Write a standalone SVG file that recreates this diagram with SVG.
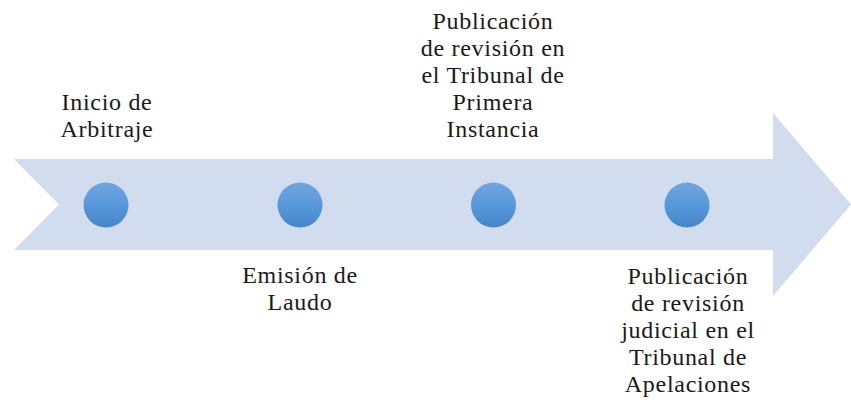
<svg xmlns="http://www.w3.org/2000/svg" width="851" height="402" viewBox="0 0 851 402">
<defs>
<linearGradient id="g" x1="0" y1="0" x2="0" y2="1">
<stop offset="0" stop-color="#72A6DD"/>
<stop offset="0.5" stop-color="#5798DB"/>
<stop offset="1" stop-color="#4585C8"/>
</linearGradient>
<style>
.dot{fill:url(#g);}
.t{font-family:"Liberation Serif","Times New Roman",serif;font-size:24px;fill:#1a1a1a;text-anchor:middle;letter-spacing:0.7px;}
</style>
</defs>
<g id="arrow">
<polygon points="14,159 773,159 773,113 851,204.5 773,296 773,250 14,250 59,204.5" fill="#D1DCEF"/>
</g>
<g id="connectors"></g>
<g id="n1"><circle class="dot" cx="106" cy="205" r="22.5"/>
<text class="t"><tspan x="107" y="110">Inicio de</tspan><tspan x="107" y="137">Arbitraje</tspan></text></g>
<g id="n2"><circle class="dot" cx="300" cy="205" r="22.5"/>
<text class="t"><tspan x="300" y="283">Emisión de</tspan><tspan x="300" y="310">Laudo</tspan></text></g>
<g id="n3"><circle class="dot" cx="493.5" cy="205" r="22.5"/>
<text class="t"><tspan x="493" y="29">Publicación</tspan><tspan x="493" y="56">de revisión en</tspan><tspan x="493" y="83">el Tribunal de</tspan><tspan x="493" y="110">Primera</tspan><tspan x="493" y="137">Instancia</tspan></text></g>
<g id="n4"><circle class="dot" cx="687" cy="205" r="22.5"/>
<text class="t"><tspan x="688" y="284">Publicación</tspan><tspan x="688" y="311">de revisión</tspan><tspan x="688" y="338">judicial en el</tspan><tspan x="688" y="365">Tribunal de</tspan><tspan x="688" y="392">Apelaciones</tspan></text></g>
</svg>
